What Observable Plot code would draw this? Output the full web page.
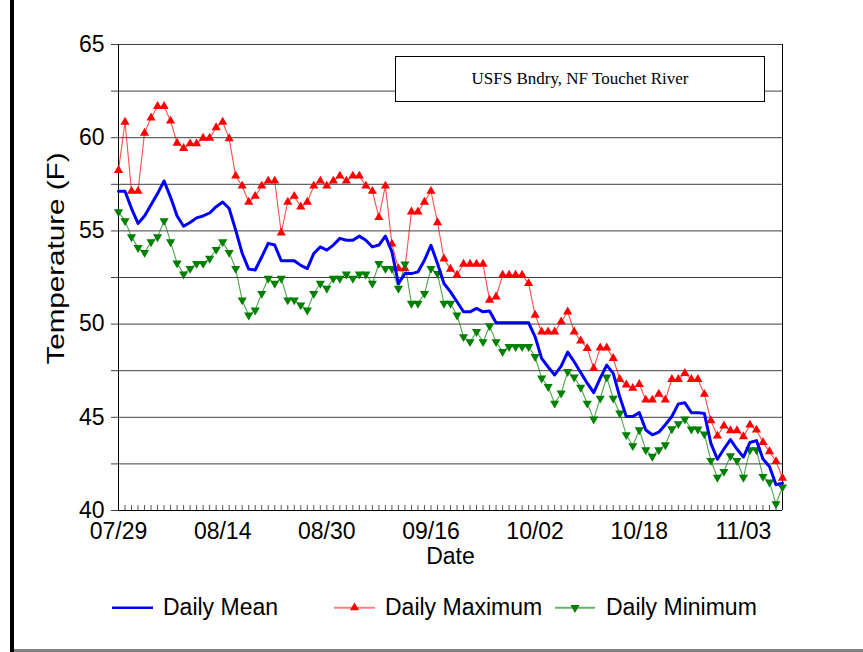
<!DOCTYPE html>
<html><head><meta charset="utf-8">
<script src="https://cdn.jsdelivr.net/npm/d3@7"></script>
<script src="https://cdn.jsdelivr.net/npm/@observablehq/plot@0.6"></script>
<style>
body{margin:0;background:#fff;}
#wrap{position:relative;width:863px;height:652px;overflow:hidden;background:#fff;font-family:"Liberation Sans",Arial,sans-serif;}
#chart{position:absolute;left:0;top:0;}
#titlebox{position:absolute;left:395px;top:56px;width:370px;height:46px;box-sizing:border-box;border:1px solid #000;background:#fff;
 font-family:"Liberation Serif","Times New Roman",serif;font-size:17px;color:#000;display:flex;align-items:center;justify-content:center;}
#legend{position:absolute;left:0;top:587px;}
#lborder{position:absolute;left:10px;top:0;width:4px;height:652px;background:#000;}
#bborder{position:absolute;left:14px;top:649px;width:849px;height:3px;background:#808080;}
</style></head><body>
<div id="wrap"><div id="chart"></div><div id="titlebox"></div><div id="legend"></div><div id="lborder"></div><div id="bborder"></div></div>
<script>
const chartTitle = "USFS Bndry, NF Touchet River";
const xLabel = "Date";
const yLabel = "Temperature (F)";
const seriesNames = ["Daily Mean", "Daily Maximum", "Daily Minimum"];
const tickIdx = [0, 16, 32, 48, 64, 80, 96];
const tickLabels = ["07/29", "08/14", "08/30", "09/16", "10/02", "10/18", "11/03"];
const yGrid = [40, 42.5, 45, 47.5, 50, 52.5, 55, 57.5, 60, 62.5, 65];

const dailyMax = [58.25,60.84,57.13,57.13,60.25,61.07,61.68,61.68,60.9,59.71,
59.43,59.68,59.68,59.98,59.98,60.54,60.84,59.95,57.95,57.41,
56.55,56.86,57.41,57.68,57.68,54.9,56.55,56.86,56.29,56.55,
57.41,57.68,57.41,57.68,57.95,57.68,57.95,57.95,57.41,57.13,
55.72,57.41,54.3,52.98,52.98,56.02,56.02,56.55,57.13,55.45,
53.5,52.95,52.63,53.22,53.22,53.22,53.22,51.29,51.46,52.63,
52.63,52.63,52.63,52.18,50.48,49.59,49.59,49.59,50.13,50.66,
49.59,49.1,48.7,47.63,48.73,48.73,48.16,47.04,46.74,46.56,
46.77,45.93,45.93,46.25,45.93,47.04,47.04,47.36,47.04,47.04,
46.24,44.82,44.0,44.54,44.29,44.29,43.97,44.59,44.32,43.65,
43.16,42.63,41.74];

const dailyMean = [57.13,57.13,56.2,55.4,55.8,56.4,57.0,57.68,56.8,55.8,
55.25,55.45,55.7,55.8,55.96,56.3,56.55,56.2,55.04,53.8,
52.95,52.9,53.6,54.33,54.24,53.4,53.4,53.4,53.15,52.98,
53.79,54.14,53.97,54.24,54.6,54.5,54.5,54.72,54.5,54.14,
54.24,54.72,53.88,52.18,52.71,52.71,52.8,53.43,54.23,53.25,
52.18,51.73,51.2,50.66,50.66,50.84,50.66,50.7,50.07,50.07,
50.07,50.07,50.07,50.07,49.32,48.16,47.7,47.27,47.75,48.5,
47.98,47.4,46.83,46.32,47.1,47.8,47.36,46.1,45.04,45.04,
45.25,44.32,44.06,44.2,44.6,45.04,45.72,45.78,45.25,45.25,
45.2,43.6,42.75,43.3,43.8,43.3,42.86,43.65,43.75,42.76,
42.36,41.38,41.47];

const dailyMin = [56.02,55.54,54.68,54.1,53.84,54.41,54.68,55.54,54.41,53.27,
52.68,52.98,53.25,53.25,53.52,54.0,54.41,53.84,52.98,51.29,
50.48,50.75,51.64,52.45,52.18,52.45,51.29,51.29,51.02,50.75,
51.64,52.18,51.91,52.45,52.45,52.68,52.45,52.68,52.68,52.18,
53.25,52.98,52.98,51.91,53.22,51.11,51.11,51.64,52.98,52.71,
51.11,51.11,50.48,49.32,49.05,49.59,49.05,49.9,49.05,48.52,
48.79,48.79,48.79,48.79,48.25,47.1,46.64,45.75,46.29,47.45,
47.15,46.6,45.75,44.9,46.02,47.15,46.02,45.22,44.06,43.47,
44.32,43.25,42.9,43.25,43.52,44.38,44.65,44.9,44.36,44.36,
44.1,42.68,41.77,42.09,42.93,42.68,41.77,43.25,43.25,41.82,
41.52,40.36,41.25];

const day = dailyMean.map((_, i) => i);
const rows = day.map(i => ({i, max: dailyMax[i], mean: dailyMean[i], min: dailyMin[i]}));
const font = "'Liberation Sans', Arial, sans-serif";
const yMin = yGrid[0], yMax = yGrid[yGrid.length - 1];

const plot = Plot.plot({
  width: 863, height: 590,
  marginLeft: 118, marginRight: 81, marginTop: 44, marginBottom: 80,
  x: {domain: [day[0], day[day.length - 1]], label: null},
  y: {domain: [yMin, yMax], label: null},
  style: {fontFamily: font, fontSize: "23px", color: "#000", background: "transparent", overflow: "visible"},
  marks: [
    Plot.gridY(yGrid, {stroke: "#404040", strokeOpacity: 1}),
    Plot.axisY({ticks: yGrid, tickSize: 7, tickPadding: 7, stroke: "#404040", fontSize: 23, label: null,
      tickFormat: d => d % 5 === 0 ? String(d) : ""}),
    Plot.axisX({ticks: tickIdx, tickSize: 0, tickPadding: 12, fontSize: 23, label: null,
      tickFormat: d => tickLabels[tickIdx.indexOf(d)]}),
    Plot.ruleX(day, {x: d => d, y1: yMin, y2: yMin + 5 * (yMax - yMin) / 466, stroke: "#555"}),
    Plot.ruleX([day[0], day[day.length - 1]], {stroke: "#000"}),
    Plot.ruleY([yMin], {stroke: "#000"}),
    Plot.line(rows, {x: "i", y: "max", stroke: "#ff0000", strokeWidth: 1.1, strokeOpacity: 0.7}),
    Plot.dot(rows, {x: "i", y: "max", symbol: "triangle", r: 3.4, fill: "#ff0000", stroke: null}),
    Plot.line(rows, {x: "i", y: "min", stroke: "#008000", strokeWidth: 1.1, strokeOpacity: 0.7}),
    Plot.dot(rows, {x: "i", y: "min", symbol: "triangle", rotate: 180, r: 3.4, fill: "#008000", stroke: null}),
    Plot.line(rows, {x: "i", y: "mean", stroke: "#0000ff", strokeWidth: 3}),
    Plot.text([xLabel], {frameAnchor: "bottom", dy: 53, fontSize: 23, fill: "#000"}),
    Plot.text([yLabel], {frameAnchor: "left", textAnchor: "middle", dx: -62, dy: -19, rotate: -90, fontSize: 24, fill: "#000"})
  ]
});
document.getElementById("chart").appendChild(plot);
document.getElementById("titlebox").textContent = chartTitle;

// stretch the vertical axis title along its length, as in the reference
d3.select(plot).selectAll("text").filter(function() { return this.textContent === yLabel; })
  .attr("textLength", 212).attr("lengthAdjust", "spacingAndGlyphs");

// legend
const lg = d3.select("#legend").append("svg").attr("width", 863).attr("height", 40)
  .style("font-family", font).style("font-size", "23px");
const ly = 20.7, tb = 27.5;
const items = [
  {name: seriesNames[0], x0: 112, x1: 153, tx: 163, color: "#0000ff", w: 2.5, op: 1, marker: null},
  {name: seriesNames[1], x0: 334, x1: 375, tx: 385, color: "#ff0000", w: 2, op: 0.5, marker: "up"},
  {name: seriesNames[2], x0: 555, x1: 595, tx: 606, color: "#008000", w: 2, op: 0.6, marker: "down"}
];
for (const it of items) {
  lg.append("line").attr("x1", it.x0).attr("x2", it.x1).attr("y1", ly).attr("y2", ly)
    .attr("stroke", it.color).attr("stroke-width", it.w).attr("stroke-opacity", it.op);
  if (it.marker) {
    const sym = d3.symbol(d3.symbolTriangle, Math.PI * 3.4 * 3.4)();
    lg.append("path").attr("d", sym).attr("fill", it.color)
      .attr("transform", `translate(${(it.x0 + it.x1) / 2},${ly})` + (it.marker === "down" ? " rotate(180)" : ""));
  }
  lg.append("text").attr("x", it.tx).attr("y", tb).attr("fill", "#000").text(it.name);
}
</script>
</body></html>
